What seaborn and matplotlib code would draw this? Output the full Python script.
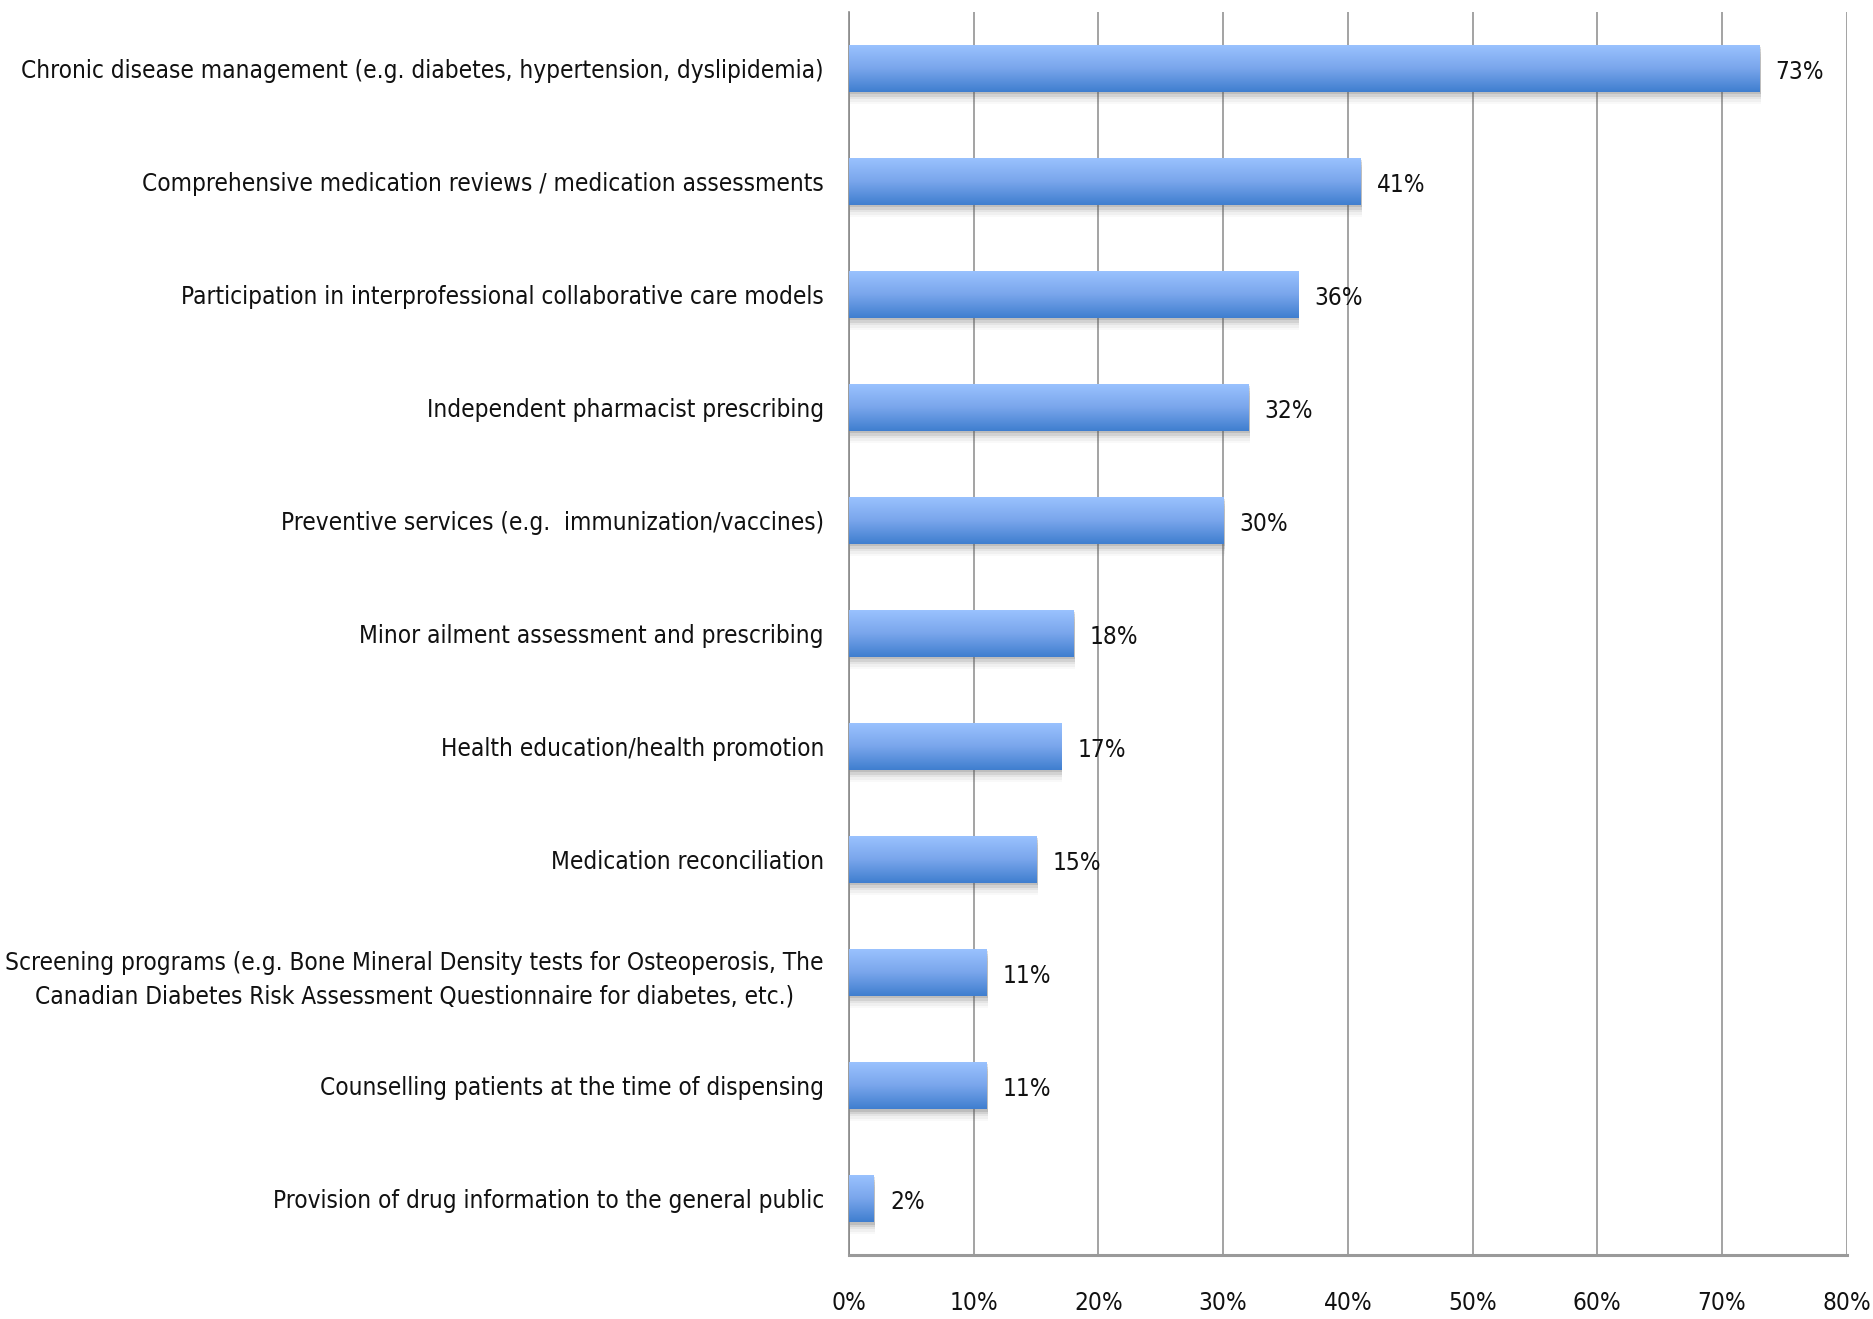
import numpy as np
import pandas as pd
import matplotlib
matplotlib.use("Agg")
import matplotlib.pyplot as plt
import seaborn as sns
from matplotlib.colors import LinearSegmentedColormap
from matplotlib.patches import Rectangle
from matplotlib.ticker import FixedLocator, PercentFormatter

services = [
    "Chronic disease management (e.g. diabetes, hypertension, dyslipidemia)",
    "Comprehensive medication reviews / medication assessments",
    "Participation in interprofessional collaborative care models",
    "Independent pharmacist prescribing",
    "Preventive services (e.g.  immunization/vaccines)",
    "Minor ailment assessment and prescribing",
    "Health education/health promotion",
    "Medication reconciliation",
    "Screening programs (e.g. Bone Mineral Density tests for Osteoperosis, The\nCanadian Diabetes Risk Assessment Questionnaire for diabetes, etc.)",
    "Counselling patients at the time of dispensing",
    "Provision of drug information to the general public",
]
percent = [73, 41, 36, 32, 30, 18, 17, 15, 11, 11, 2]
x_ticks = [0, 10, 20, 30, 40, 50, 60, 70, 80]

sns.set_style("white")
plt.rcParams["font.family"] = ["DejaVu Sans"]
plt.rcParams["font.stretch"] = "condensed"

FS = 17.5

df = pd.DataFrame({"service": services, "percent": percent})

fig = plt.figure(figsize=(18.74, 13.19), dpi=100)
ax = fig.add_axes([0.453, 0.0485, 0.5325, 0.9425])

sns.barplot(data=df, y="service", x="percent", orient="h", width=0.42,
            color="#4a86d8", ax=ax, zorder=3)

grad = LinearSegmentedColormap.from_list("bar", ["#9bc3ff", "#7aa6ec", "#3f7ecf"])
gradient = np.linspace(0, 1, 256).reshape(-1, 1)

for patch in list(ax.patches):
    x0, y0 = patch.get_x(), patch.get_y()
    w, h = patch.get_width(), patch.get_height()
    # soft drop shadow below each bar
    for k, a in enumerate([0.16, 0.12, 0.08, 0.05, 0.03]):
        sh = Rectangle((x0 + 0.12, y0 + 0.02 + 0.022 * k), w, h,
                       facecolor="#555555", edgecolor="none", alpha=a, zorder=2)
        ax.add_patch(sh)
    patch.set_facecolor("none")
    patch.set_edgecolor("none")
    im = ax.imshow(gradient, cmap=grad, aspect="auto",
                   extent=(x0, x0 + w, y0 + h, y0), zorder=3,
                   interpolation="bicubic")
    im.set_clip_path(patch)
    ax.text(x0 + w + 1.3, y0 + h / 2 + 0.03, f"{w:.0f}%", va="center", ha="left",
            fontsize=FS, color="#111111", zorder=4)

ax.set_xlim(0, 80)
ax.set_ylim(10.5, -0.5)
ax.xaxis.set_major_locator(FixedLocator(x_ticks))
ax.xaxis.set_major_formatter(PercentFormatter(decimals=0))
ax.grid(axis="x", color="#8a8a8a", linewidth=1.1, zorder=0)
ax.set_axisbelow(True)
ax.set_xlabel("")
ax.set_ylabel("")

for side in ["top", "right"]:
    ax.spines[side].set_visible(False)
ax.spines["left"].set_color("#8a8a8a")
ax.spines["left"].set_linewidth(1.2)
ax.spines["bottom"].set_color("#9a9a9a")
ax.spines["bottom"].set_linewidth(2.2)

ax.tick_params(axis="y", which="major", length=0, pad=18, labelsize=FS,
               labelcolor="#111111")
ax.yaxis.set_minor_locator(FixedLocator(np.arange(-0.5, 11.0, 1.0)))
ax.tick_params(axis="y", which="minor", length=7, width=1.1, color="#8a8a8a",
               direction="out")
ax.tick_params(axis="x", which="major", length=10, width=1.1, color="#8a8a8a",
               direction="out", pad=16, labelsize=FS, labelcolor="#111111")
for lbl in ax.get_yticklabels():
    lbl.set_multialignment("center")
    lbl.set_linespacing(1.5)

fig.savefig("out.png", dpi=100, facecolor="white")
